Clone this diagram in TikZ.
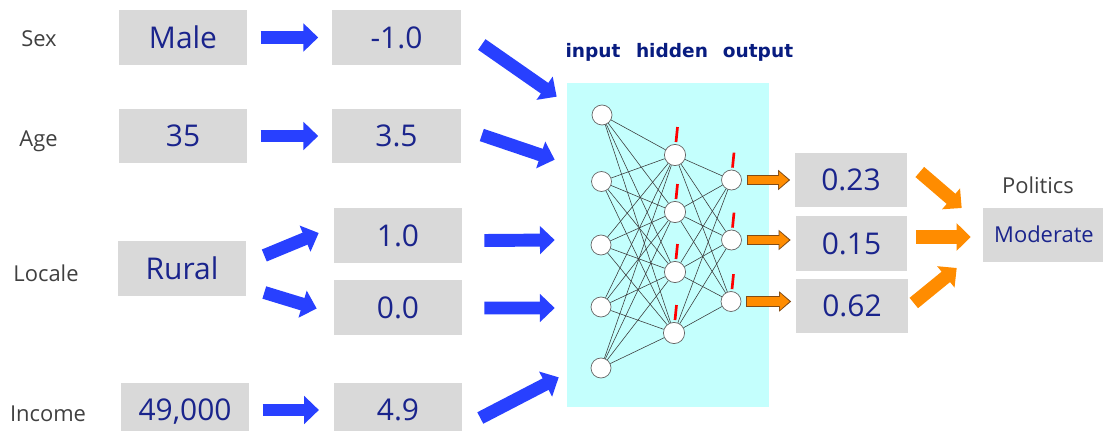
\documentclass[tikz,border=0pt]{standalone}
\usepackage{fontspec}
\setmainfont{Open Sans}
\newfontfamily\layerfont{DejaVu Sans}
\usetikzlibrary{arrows.meta}

\definecolor{boxgray}{RGB}{217,217,217}
\definecolor{valblue}{RGB}{26,36,140}
\definecolor{layerblue}{RGB}{8,28,128}
\definecolor{namegray}{RGB}{64,64,64}
\definecolor{flowblue}{RGB}{40,64,255}
\definecolor{netcyan}{RGB}{196,255,253}
\definecolor{flowor}{RGB}{255,140,0}
\definecolor{orrim}{RGB}{130,75,20}

\begin{document}
\begin{tikzpicture}[x=0.025cm, y=-0.025cm,
  valbox/.style={fill=boxgray, minimum width=3.2cm, minimum height=1.35cm, inner sep=0pt,
    text=valblue, text height=15.2pt, text depth=0pt, font=\fontsize{21.3}{24}\selectfont},
  probbox/.style={valbox, minimum width=2.775cm},
  classbox/.style={valbox, minimum width=3.05cm, text height=11.2pt, font=\fontsize{15.6}{18}\selectfont},
  varname/.style={anchor=base, text=namegray, inner sep=0pt, font=\fontsize{15.6}{18}\selectfont},
  layername/.style={anchor=base, text=layerblue, inner sep=0pt, font=\layerfont\bfseries\fontsize{13.2}{15}\selectfont},
  neuron/.style={circle, draw=black!60, fill=white, minimum size=0.5cm, inner sep=0pt, line width=0.5pt},
  link/.style={draw=black!78, line width=0.4pt},
  bias/.style={draw=red, line width=1.9pt},
  bluearrow/.style={draw=flowblue, line width=9.2pt, -{Triangle[width=19.5pt, length=10.5pt]}},
  bigorange/.style={draw=flowor, line width=9.5pt, -{Triangle[width=19pt, length=10pt]}},
  smallorange/.style={draw=flowor, line width=6pt, -{Triangle[width=11.5pt, length=6.8pt]},
    shorten <=0.15cm, shorten >=0.125cm+1.2pt,
    preaction={draw=orrim, line width=7.8pt, -{Triangle[width=14pt, length=8.6pt]},
      shorten <=0.15cm-0.8pt, shorten >=0.125cm}}
]
\useasboundingbox (0,0) rectangle (1103,431);

% variable names
\node[varname] (sex) at (39,46.7) {Sex};
\node[varname] (age) at (38.5,146.7) {Age};
\node[varname] (locale) at (46,281.7) {Locale};
\node[varname] (income) at (48,421.7) {Income};

% raw values
\node[valbox] (male) at (183,37.5) {Male};
\node[valbox] (years) at (183,136) {35};
\node[valbox] (rural) at (182,268.5) {Rural};
\node[valbox] (dollars) at (185,410) {49,000};

% encoded values
\node[valbox] (sexval) at (396.5,37.5) {-1.0};
\node[valbox] (ageval) at (396.5,136) {3.5};
\node[valbox] (locone) at (398,235.5) {1.0};
\node[valbox] (loczero) at (398,307.5) {0.0};
\node[valbox] (incval) at (398,410) {4.9};

% encoding arrows
\draw[bluearrow, shorten <=0.33cm, shorten >=0.35cm] (male.east) -- (sexval.west);
\draw[bluearrow, shorten <=0.33cm, shorten >=0.35cm] (years.east) -- (ageval.west);
\draw[bluearrow] ([shift={(18,-13)}]rural.east) -- ([shift={(-15,-2.5)}]locone.west);
\draw[bluearrow] ([shift={(18,24)}]rural.east) -- ([shift={(-17,1)}]loczero.west);
\draw[bluearrow, shorten <=0.33cm, shorten >=0.37cm] (dollars.east) -- (incval.west);

% the network
\node[fill=netcyan, minimum width=5.05cm, minimum height=8.1cm, inner sep=0pt] (net) at (668,245) {};
\node[layername] (inlabel) at (593,58) {input};
\node[layername] (hidlabel) at (672,58) {hidden};
\node[layername] (outlabel) at (758,58) {output};

\node[neuron] (i1) at (602,115) {};
\node[neuron] (i2) at (601.5,181.5) {};
\node[neuron] (i3) at (601,245) {};
\node[neuron] (i4) at (601,307) {};
\node[neuron] (i5) at (601,368) {};

\node[neuron, minimum size=0.53cm] (h1) at (675,155) {};
\node[neuron, minimum size=0.53cm] (h2) at (675,212) {};
\node[neuron, minimum size=0.53cm] (h3) at (675,272) {};
\node[neuron, minimum size=0.53cm] (h4) at (674,333) {};

\node[neuron] (o1) at (731.5,180) {};
\node[neuron] (o2) at (731.5,240) {};
\node[neuron] (o3) at (731,301.5) {};

\foreach \i in {1,...,5}
  \foreach \j in {1,...,4}
    \draw[link] (i\i) -- (h\j);
\foreach \j in {1,...,4}
  \foreach \k in {1,...,3}
    \draw[link] (h\j) -- (o\k);

% bias ticks
\foreach \n in {h1,h2,h3,h4,o1,o2,o3}
  \draw[bias] ([shift={(1,-2)}]\n.north) -- ++(1.5,-15);

% into the network
\draw[bluearrow] ([shift={(21,7)}]sexval.east) -- ([shift={(-10,14)}]net.north west);
\draw[bluearrow] ([shift={(21,-1)}]ageval.east) -- ([shift={(-12,77)}]net.north west);
\draw[bluearrow] ([shift={(22,5)}]locone.east) -- ([shift={(-12,-5)}]net.west);
\draw[bluearrow] ([shift={(22,0.5)}]loczero.east) -- ([shift={(-12,63)}]net.west);
\draw[bluearrow] ([shift={(18,8)}]incval.east) -- ([shift={(-8,-30)}]net.south west);

% outputs
\node[probbox] (p1) at (851,180) {0.23};
\node[probbox] (p2) at (851.5,243.5) {0.15};
\node[probbox] (p3) at (852,306) {0.62};

\draw[smallorange] (o1.east) -- (o1.east -| p1.west);
\draw[smallorange] (o2.east) -- (o2.east -| p2.west);
\draw[smallorange] (o3.east) -- (o3.east -| p3.west);

\node[varname] (politics) at (1038,193.3) {Politics};
\node[classbox] (moderate) at (1044,235) {Moderate};

\draw[bigorange] ([shift={(13,-8)}]p1.east) -- ([shift={(-21,-27)}]moderate.west);
\draw[bigorange] ([shift={(9,-6.5)}]p2.east) -- ([shift={(-12,2)}]moderate.west);
\draw[bigorange] ([shift={(6,-3)}]p3.east) -- ([shift={(-26,33)}]moderate.west);
\end{tikzpicture}
\end{document}
